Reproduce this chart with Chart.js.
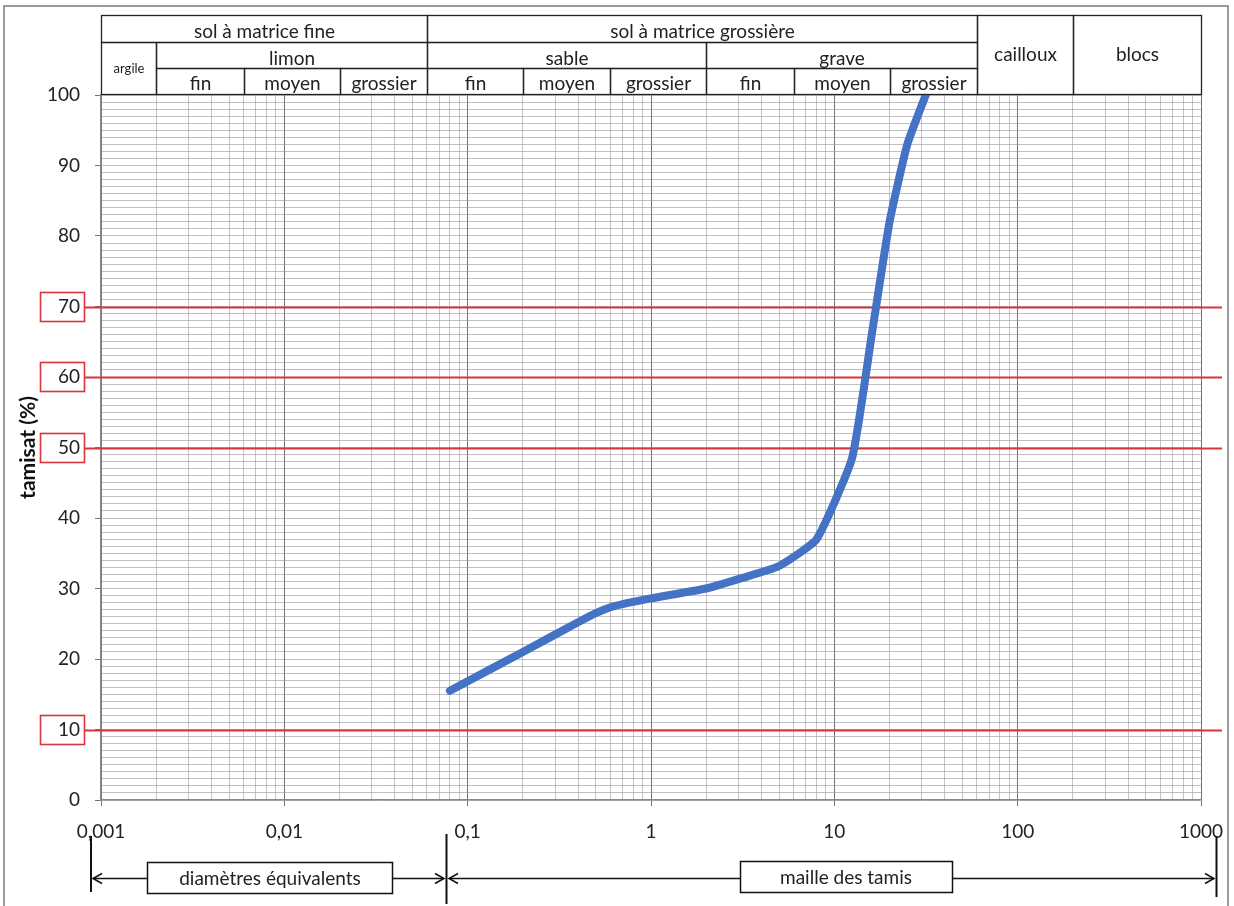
<!DOCTYPE html>
<html>
<head>
<meta charset="utf-8">
<script src="https://cdn.jsdelivr.net/npm/chart.js@4"></script>
<style>
  html, body { margin: 0; padding: 0; background: #fff; }
  #wrap { width: 1234px; height: 906px; position: relative; }
  canvas { display: block; }
</style>
</head>
<body>
<div id="wrap"><canvas id="chart1" width="1234" height="906"></canvas></div>
<script>
// sieve sizes (mm) and % passing
const sizes = [0.08, 0.2, 0.4, 0.5, 0.63, 1, 2, 3.15, 5, 8, 12.5, 16, 20, 25, 31.5];
const passing = [15.5, 21, 25.2, 26.5, 27.5, 28.6, 30, 31.5, 33.2, 37, 48.5, 66, 82, 93, 100];

// x axis decades and their labels
const decades = [0.001, 0.01, 0.1, 1, 10, 100, 1000];
const decadeLabels = ['0,001', '0,01', '0,1', '1', '10', '100', '1000'];

// reference levels outlined in red
const redLevels = [70, 60, 50, 10];

// classification table above the plot
const topLabels = ['sol à matrice fine', 'sol à matrice grossière'];
const topBounds = [0.001, 0.06, 60];
const midLabels = ['limon', 'sable', 'grave'];
const midBounds = [0.002, 0.06, 2, 60];
const lowLabels = ['fin', 'moyen', 'grossier', 'fin', 'moyen', 'grossier', 'fin', 'moyen', 'grossier'];
const lowBounds = [0.002, 0.006, 0.02, 0.06, 0.2, 0.6, 2, 6, 20, 60];
const sideLabels = ['argile', 'cailloux', 'blocs'];
const sideBounds = [[0.001, 0.002], [60, 200], [200, 1000]];

const FONT = 'Lato, "Open Sans", sans-serif';

// every 1..9 x 10^k value for the log grid
const xTickValues = [];
decades.forEach((d, i) => {
    const last = i === decades.length - 1 ? 1 : 9;
    for (let m = 1; m <= last; m++) xTickValues.push(+(d * m).toPrecision(3));
});

function isDecade(v) {
    const l = Math.log10(v);
    return Math.abs(l - Math.round(l)) < 1e-6;
}

const tablePlugin = {
    id: 'table',
    beforeDatasetsDraw(chart) {
        const { ctx } = chart;
        const y = chart.scales.y;
        ctx.save();
        ctx.strokeStyle = '#d8343c';
        redLevels.forEach(v => {
            const py = Math.round(y.getPixelForValue(v)) + 0.5;
            ctx.lineWidth = 2.2;
            ctx.beginPath();
            ctx.moveTo(84, py);
            ctx.lineTo(1222, py);
            ctx.stroke();
            ctx.lineWidth = 1.6;
            ctx.strokeRect(40.5, py - 15, 44, 29);
        });
        ctx.restore();
    },
    afterDraw(chart) {
        const { ctx } = chart;
        const x = chart.scales.x;
        const px = v => Math.round(x.getPixelForValue(v)) + 0.5;
        const rows = [15.5, 42.5, 68.5, 94.5];
        ctx.save();

        // header table
        ctx.fillStyle = '#fff';
        ctx.fillRect(px(0.001), rows[0], px(1000) - px(0.001), rows[3] - rows[0]);
        ctx.strokeStyle = '#222';
        ctx.lineWidth = 1.3;
        ctx.fillStyle = '#222';
        ctx.textAlign = 'center';
        ctx.textBaseline = 'middle';

        function cell(x0, x1, y0, y1, text, size, dy) {
            ctx.strokeRect(px(x0), y0, px(x1) - px(x0), y1 - y0);
            ctx.font = size + 'px ' + FONT;
            ctx.fillText(text, (px(x0) + px(x1)) / 2, (y0 + y1) / 2 + dy);
        }
        topLabels.forEach((t, i) => cell(topBounds[i], topBounds[i + 1], rows[0], rows[1], t, 19, 3));
        midLabels.forEach((t, i) => cell(midBounds[i], midBounds[i + 1], rows[1], rows[2], t, 19, 3));
        lowLabels.forEach((t, i) => cell(lowBounds[i], lowBounds[i + 1], rows[2], rows[3], t, 19, 2));
        cell(sideBounds[0][0], sideBounds[0][1], rows[1], rows[3], sideLabels[0], 13, 0);
        cell(sideBounds[1][0], sideBounds[1][1], rows[0], rows[3], sideLabels[1], 19, 0);
        cell(sideBounds[2][0], sideBounds[2][1], rows[0], rows[3], sideLabels[2], 19, 0);

        // bottom brackets
        ctx.strokeStyle = '#111';
        const ay = 878.5;
        function vline(xx, y0, y1) {
            ctx.beginPath(); ctx.moveTo(xx, y0); ctx.lineTo(xx, y1); ctx.stroke();
        }
        function arrow(x0, x1) {
            ctx.beginPath(); ctx.moveTo(x0, ay); ctx.lineTo(x1, ay); ctx.stroke();
            const dir = x1 > x0 ? -1 : 1;
            ctx.beginPath();
            ctx.moveTo(x1 + dir * 9, ay - 5);
            ctx.lineTo(x1, ay);
            ctx.lineTo(x1 + dir * 9, ay + 5);
            ctx.stroke();
        }
        ctx.lineWidth = 2;
        vline(91, 836, 892);
        vline(446.5, 834, 904);
        vline(1216.5, 836, 897);
        ctx.lineWidth = 1.5;
        arrow(147, 93);
        arrow(392, 444);
        arrow(740, 449);
        arrow(952, 1214);
        ctx.strokeRect(147.5, 862.5, 245, 31);
        ctx.strokeRect(740.5, 861.5, 212, 31);
        ctx.font = '19px ' + FONT;
        ctx.fillText('diamètres équivalents', 270, 879);
        ctx.fillText('maille des tamis', 846, 878);

        // scan frame
        ctx.strokeStyle = '#9a9a9a';
        ctx.lineWidth = 2;
        ctx.strokeRect(4, 6, 1224, 906);
        ctx.restore();
    }
};

new Chart(document.querySelector('#chart1').getContext('2d'), {
    type: 'line',
    data: {
        datasets: [{
            label: 'tamisat',
            data: sizes.map((s, i) => ({ x: s, y: passing[i] })),
            borderColor: '#4472C4',
            borderWidth: 8,
            pointRadius: 0,
            tension: 0.15,
            borderCapStyle: 'round',
            borderJoinStyle: 'round',
            fill: false
        }]
    },
    options: {
        responsive: false,
        animation: false,
        devicePixelRatio: 1,
        layout: { padding: { left: 0, top: 95, right: 33, bottom: 0 } },
        plugins: {
            legend: { display: false },
            tooltip: { enabled: false }
        },
        scales: {
            x: {
                type: 'logarithmic',
                min: 0.001,
                max: 1000,
                afterBuildTicks: scale => {
                    scale.ticks = xTickValues.map(v => ({ value: v }));
                },
                afterFit: scale => {
                    scale.height = 106;
                    scale.paddingLeft = 0;
                    scale.paddingRight = 0;
                },
                ticks: {
                    autoSkip: false,
                    maxRotation: 0,
                    padding: 14,
                    color: '#222',
                    font: { family: FONT, size: 19 },
                    callback: value => {
                        const i = decades.findIndex(d => Math.abs(d - value) < d * 1e-6);
                        return i >= 0 ? decadeLabels[i] : '';
                    }
                },
                grid: {
                    color: c => isDecade(c.tick.value) ? 'rgba(90,90,90,0.85)' : 'rgba(150,150,150,0.55)',
                    tickColor: c => isDecade(c.tick.value) ? 'rgba(90,90,90,0.85)' : 'rgba(0,0,0,0)',
                    tickLength: 6
                },
                border: { color: '#888', width: 1.5 }
            },
            y: {
                min: 0,
                max: 100,
                afterFit: scale => { scale.width = 101; },
                ticks: {
                    stepSize: 1,
                    autoSkip: false,
                    padding: 15,
                    color: '#222',
                    font: { family: FONT, size: 19 },
                    callback: value => value % 10 === 0 ? value : ''
                },
                grid: {
                    color: 'rgba(150,150,150,0.6)',
                    tickColor: c => c.tick.value % 10 === 0 ? 'rgba(90,90,90,0.85)' : 'rgba(0,0,0,0)',
                    tickLength: 6
                },
                border: { color: '#888', width: 1.5 },
                title: {
                    display: true,
                    text: 'tamisat (%)',
                    color: '#111',
                    font: { family: FONT, size: 21, weight: 'bold' },
                    padding: { top: 16, bottom: 0 }
                }
            }
        }
    },
    plugins: [tablePlugin]
});
</script>
</body>
</html>
